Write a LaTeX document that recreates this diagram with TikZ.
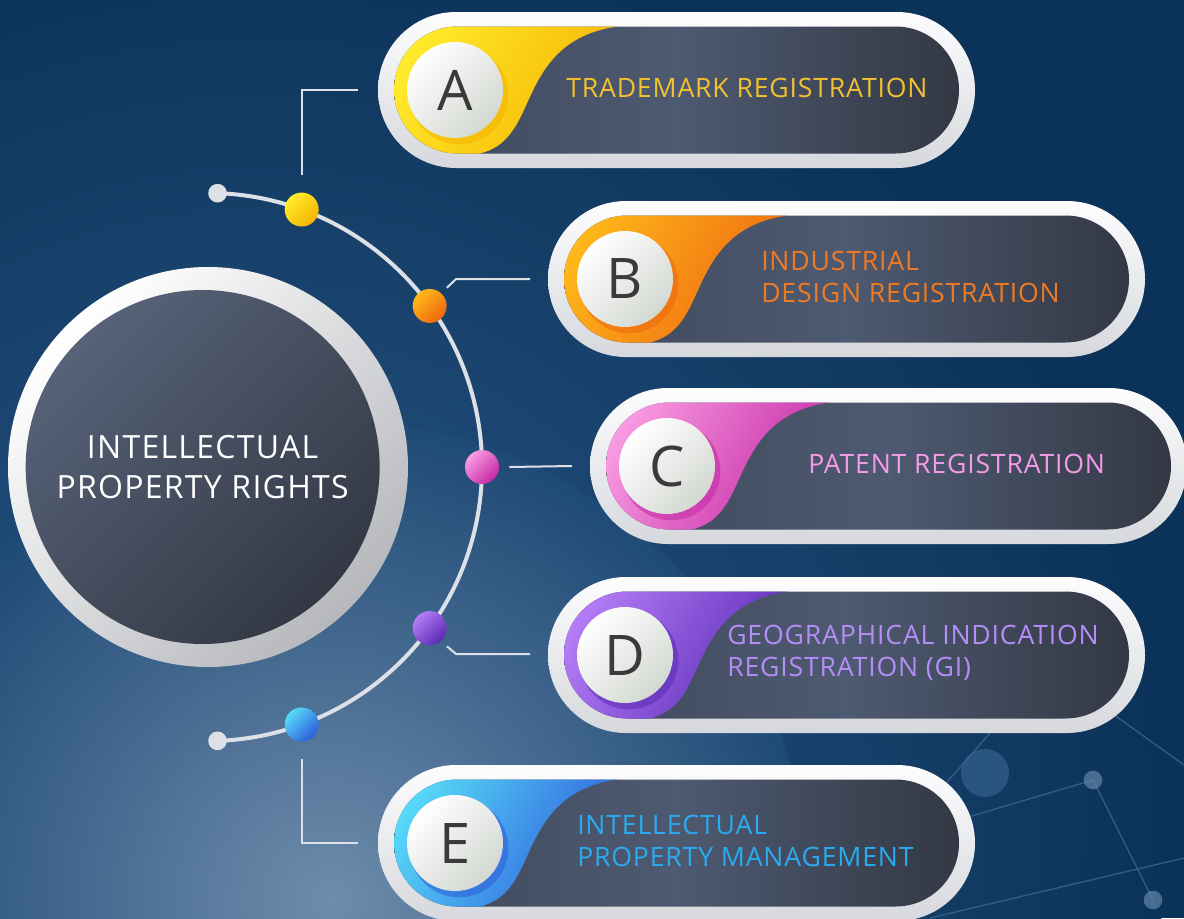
\documentclass[tikz,border=0pt]{standalone}
\usepackage{fontspec}
\setmainfont{Open Sans}
\usetikzlibrary{calc}

\definecolor{bgnavy}{HTML}{0B3259}
\definecolor{bgmid}{HTML}{2C5A89}
\definecolor{bglight}{HTML}{6E8CAB}
\definecolor{netline}{HTML}{3B6792}
\definecolor{ringtop}{HTML}{FDFDFE}
\definecolor{ringbot}{HTML}{D6D8DD}
\definecolor{pillL}{HTML}{3F485B}
\definecolor{pillM}{HTML}{4E5A71}
\definecolor{pillR}{HTML}{333844}
\definecolor{badgebot}{HTML}{D3D8D1}
\definecolor{lettergray}{HTML}{3A3A3A}
\definecolor{connline}{HTML}{DDE1E7}
% item colours
\definecolor{trLight}{HTML}{FFEC2C}
\definecolor{trDark}{HTML}{F5B300}
\definecolor{trText}{HTML}{F2C12E}
\definecolor{idLight}{HTML}{FFB91A}
\definecolor{idDark}{HTML}{EE6610}
\definecolor{idText}{HTML}{F07A22}
\definecolor{ptLight}{HTML}{F99DE3}
\definecolor{ptDark}{HTML}{C427A4}
\definecolor{ptText}{HTML}{F49BE8}
\definecolor{giLight}{HTML}{B67EF7}
\definecolor{giDark}{HTML}{5A2AB6}
\definecolor{giText}{HTML}{B48DF7}
\definecolor{pmLight}{HTML}{58DBF9}
\definecolor{pmDark}{HTML}{2D5CDB}
\definecolor{pmText}{HTML}{2AAAF0}

\tikzset{
  cardring/.style={top color=ringtop, bottom color=ringbot},
  cardpill/.style={left color=pillL, right color=pillR, middle color=pillM},
  badge/.style={circle, minimum size=72pt, inner sep=0pt, left color=white,
    right color=badgebot, shading angle=45, text=lettergray,
    font=\fontsize{42}{42}\selectfont},
  bead/.style={circle, minimum size=25.5pt, inner sep=0pt},
  endbead/.style={circle, minimum size=14pt, inner sep=0pt, fill=connline},
  conn/.style={draw=connline, line width=1.5pt},
  cardtext/.style={anchor=west, align=left, inner sep=0pt,
    font=\fontsize{20}{24}\selectfont\addfontfeatures{LetterSpace=3}},
  netstroke/.style={draw=netline, line width=1pt, opacity=.8},
}

% #1 x, #2 y, #3 light, #4 dark, #5 letter, #6 text x, #7 text colour, #8 text
\newcommand{\iprcard}[8]{%
  \begin{scope}[shift={(#1,#2)}]
    \shade[cardring, rounded corners=58.5pt] (0,-78) rectangle (597,78);
    \shade[cardpill, rounded corners=47.6pt] (16,-63.5) rectangle (581,63.5);
    \begin{scope}
      \clip[rounded corners=47.6pt] (16,-63.5) rectangle (581,63.5);
      \shade[left color=#3, right color=#4, shading angle=60]
        (0,-70) -- (245,-70) -- (240,-63.5)
        .. controls (175,-55) and (160,-10) .. (145,22)
        .. controls (132,50) and (118,64) .. (85,66) -- (0,70) -- cycle;
    \end{scope}
    \fill[#4, opacity=.55] (81,5) circle[radius=37pt];
    \node[badge] (badge#5) at (77,0) {#5};
    \node[cardtext, text=#7] (txt#5) at (#6,-2) {#8};
  \end{scope}}

\begin{document}
\begin{tikzpicture}[x=0.75pt, y=-0.75pt]
  \useasboundingbox (0,0) rectangle (1184,918);
  \clip (0,0) rectangle (1184,918);
  \fill[bgnavy] (0,0) rectangle (1184,918);
  \shade[inner color=bgmid, outer color=bgnavy] (260,820) circle[radius=680pt];
  \shade[inner color=bglight, outer color=bgmid!60!bgnavy] (330,900) circle[radius=360pt];
  % faint network in the corner
  \draw[netstroke] (1093,780) -- (1153,900);
  \draw[netstroke] (1093,780) -- (965,818);
  \draw[netstroke] (1110,712) -- (1184,765);
  \draw[netstroke] (990,733) -- (940,790);
  \draw[netstroke] (930,918) -- (1184,858);
  \fill[netline!80!white, opacity=.7] (1093,780) circle[radius=7pt];
  \fill[netline!80!white, opacity=.7] (1153,900) circle[radius=7pt];
  \fill[netline, opacity=.6] (985,773) circle[radius=18pt];

  % centre
  \coordinate (ctr) at (208,467);
  \node[circle, minimum size=300pt, inner sep=0pt, left color=white,
    right color=ringbot!85!black, shading angle=45] (iprring) at (ctr) {};
  \node[circle, minimum size=265.5pt, inner sep=0pt, left color=pillM!95!white,
    right color=pillR, shading angle=45, text=white, align=center,
    font=\fontsize{24}{30}\selectfont\addfontfeatures{LetterSpace=4}] (ipr) at ([xshift=-4pt]ctr)
    {INTELLECTUAL\\PROPERTY RIGHTS};

  % arc with beads
  \draw[connline, line width=3pt] (ctr) ++(-88:274) arc[start angle=88, end angle=-88, radius=205.5pt];
  \node[endbead] (endT) at ([shift={(-88:274)}]ctr) {};
  \node[endbead] (endB) at ([shift={(88:274)}]ctr) {};
  \node[bead, left color=trLight, right color=trDark, shading angle=45] (dotA) at ([shift={(-70:274)}]ctr) {};
  \node[bead, left color=idLight, right color=idDark, shading angle=45] (dotB) at ([shift={(-36:274)}]ctr) {};
  \node[bead, left color=ptLight, right color=ptDark, shading angle=45] (dotC) at ([shift={(0:274)}]ctr) {};
  \node[bead, left color=giLight, right color=giDark, shading angle=45] (dotD) at ([shift={(36:274)}]ctr) {};
  \node[bead, left color=pmLight, right color=pmDark, shading angle=45] (dotE) at ([shift={(70:274)}]ctr) {};

  % cards
  \iprcard{378}{90}{trLight}{trDark}{A}{188}{trText}{TRADEMARK REGISTRATION}
  \iprcard{548}{279}{idLight}{idDark}{B}{213}{idText}{INDUSTRIAL\\DESIGN REGISTRATION}
  \iprcard{590}{466}{ptLight}{ptDark}{C}{218}{ptText}{PATENT REGISTRATION}
  \iprcard{548}{655}{giLight}{giDark}{D}{179}{giText}{GEOGRAPHICAL INDICATION\\REGISTRATION (GI)}
  \iprcard{378}{843}{pmLight}{pmDark}{E}{199}{pmText}{INTELLECTUAL\\PROPERTY MANAGEMENT}

  % connectors
  \coordinate (eA) at (358,90);
  \coordinate (kB) at (456,279);
  \coordinate (eB) at (530,279);
  \coordinate (eC) at (572,466);
  \coordinate (kD) at (456,654);
  \coordinate (eD) at (530,654);
  \coordinate (eE) at (358,843);
  \draw[conn] (dotA.north) ++(0,-17) |- (eA);
  \draw[conn] (dotB.north east) ++(5,-6) -- (kB) -- (eB);
  \draw[conn] (dotC.east) ++(10,0) -- (eC);
  \draw[conn] (dotD.south east) ++(5,6) -- (kD) -- (eD);
  \draw[conn] (dotE.south) ++(0,17) |- (eE);
\end{tikzpicture}
\end{document}
